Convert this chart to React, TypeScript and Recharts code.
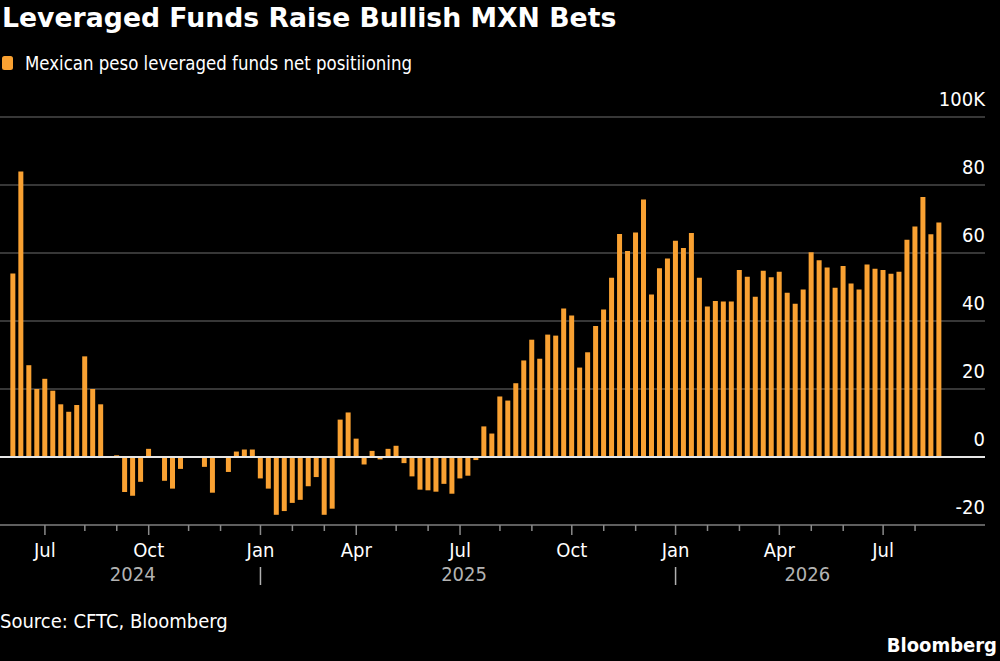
import React from 'react';
import {
    BarChart,
    Bar,
    XAxis,
    YAxis,
    CartesianGrid,
    ReferenceLine,
    ReferenceArea,
} from 'recharts';

// weekly CFTC readings (Tuesdays), first one on 2024-06-04, thousands of contracts
const START_DATE = Date.UTC(2024, 5, 4);
const netPositioning = [
    54, 84, 27, 20, 23, 19.5, 15.5, 13.3, 15.3, 29.6, 20, 15.5, -0.2, 0.5, -10.3, -11.4,
    -7.3, 2.4, 0.1, -7, -9.3, -3.5, 0.2, 0.3, -2.9, -10.5, 0.1, -4.4, 1.6, 2.2, 2.2, -6.3,
    -9.3, -17, -15.9, -13.5, -12.6, -8.6, -5.9, -17, -15.2, 11, 13.1, 5.4, -2.2, 1.8, -0.7, 2.4,
    3.3, -1.8, -5.7, -9.6, -9.8, -10.2, -7.9, -10.8, -6.3, -5.5, -0.9, 9, 6.9, 17.8, 16.6, 21.7,
    28.4, 34.5, 28.9, 36, 35.7, 43.7, 41.6, 26.3, 30.8, 38.5, 43.4, 52.7, 65.6, 60.6, 66, 75.7,
    47.8, 55.5, 58.4, 63.6, 61.5, 65.9, 52.7, 44.3, 45.9, 45.7, 45.7, 55, 53, 47.1, 54.8, 52.9,
    54.5, 48.3, 45.1, 49.3, 60.2, 57.9, 55.7, 49.8, 56.2, 51, 49.3, 56.6, 55.4, 55, 53.9, 54.5,
    63.9, 67.8, 76.5, 65.5, 69,
];
const yTicks = [-20, 0, 20, 40, 60, 80, 100];
const monthNames = ['Jan', 'Feb', 'Mar', 'Apr', 'May', 'Jun', 'Jul', 'Aug', 'Sep', 'Oct', 'Nov', 'Dec'];
const yearLabels = ['2024', '2025', '2026'];

const ORANGE = '#f9a132';
const GRID = '#4a4a4a';
const FONT = '"DejaVu Sans Condensed", sans-serif';

const WEEK = 7 * 24 * 3600 * 1000;
const isoOf = (t: number) => new Date(t).toISOString().slice(0, 10);

const data = netPositioning.map((v, i) => ({
    date: isoOf(START_DATE + i * WEEK),
    value: v,
}));

// first reading of every month gets a tick
const monthTicks = data
    .filter((d, i) => i > 0 && d.date.slice(5, 7) !== data[i - 1].date.slice(5, 7))
    .map(d => d.date);

const yearRanges = yearLabels.map(y => {
    const rows = data.filter(d => d.date.startsWith(y));
    return { year: y, from: rows[0].date, to: rows[rows.length - 1].date };
});

const MonthTick = (props: any) => {
    const { x, y, payload } = props;
    const month = Number(String(payload.value).slice(5, 7)) - 1;
    const major = month % 3 === 0;
    return (
        <g>
            <line x1={x} x2={x} y1={y} y2={y + (major ? 10 : 6)} stroke="#8a8a8a" strokeWidth={1.5} />
            {major && (
                <text x={x} y={y + 32} textAnchor="middle" fill="#fff" fontSize={20} fontFamily={FONT}>
                    {monthNames[month]}
                </text>
            )}
            {month === 0 && (
                <line x1={x} x2={x} y1={y + 42} y2={y + 60} stroke="#b0b0b0" strokeWidth={1.5} />
            )}
        </g>
    );
};

const ValueTick = (props: any) => {
    const { x, y, payload } = props;
    return (
        <text x={x} y={y - 11} textAnchor="end" fill="#fff" fontSize={20} fontFamily={FONT}>
            {payload.value === 100 ? '100K' : payload.value}
        </text>
    );
};

const YearLabel = (props: any) => {
    const { viewBox, text } = props;
    if (!viewBox) return null;
    return (
        <text
            x={viewBox.x + viewBox.width / 2}
            y={viewBox.y + viewBox.height + 56}
            textAnchor="middle"
            fill="#b3b3b3"
            fontSize={20}
            fontFamily={FONT}
        >
            {text}
        </text>
    );
};

export default function App() {
    return (
        <div style={{ position: 'absolute', left: 0, top: 0, width: 1000, height: 661, background: '#000', overflow: 'hidden' }}>
            <svg width={1000} height={100} style={{ position: 'absolute', left: 0, top: 0 }}>
                <text x={2} y={27} fill="#fff" fontSize={26.7} fontWeight="bold" fontFamily='"DejaVu Sans", sans-serif'>
                    Leveraged Funds Raise Bullish MXN Bets
                </text>
                <rect x={2} y={56} width={11} height={14} rx={2.5} fill={ORANGE} />
                <text x={25} y={70} fill="#fff" fontSize={20} fontFamily={FONT} textLength={387} lengthAdjust="spacingAndGlyphs">
                    Mexican peso leveraged funds net positiioning
                </text>
            </svg>
            <div style={{ position: 'absolute', left: 0, top: 0 }}>
                <BarChart
                    width={1000}
                    height={661}
                    data={data}
                    margin={{ top: 117, right: 0, bottom: 0, left: 0 }}
                    barCategoryGap="17%"
                >
                    <CartesianGrid vertical={false} stroke={GRID} strokeWidth={1.5} />
                    <XAxis
                        dataKey="date"
                        height={136}
                        ticks={monthTicks}
                        interval={0}
                        tickLine={false}
                        tickSize={0}
                        tickMargin={0}
                        axisLine={{ stroke: '#6e6e6e', strokeWidth: 1.5 }}
                        padding={{ left: 9, right: 42 }}
                        tick={<MonthTick />}
                    />
                    <YAxis
                        orientation="right"
                        width={15}
                        domain={[-20, 100]}
                        ticks={yTicks}
                        interval={0}
                        axisLine={false}
                        tickLine={false}
                        tickSize={0}
                        tickMargin={0}
                        tick={<ValueTick />}
                    />
                    <Bar dataKey="value" fill={ORANGE} isAnimationActive={false} />
                    <ReferenceLine y={0} stroke="#e6e6e6" strokeWidth={2} />
                    {yearRanges.map(r => (
                        <ReferenceArea
                            key={r.year}
                            x1={r.from}
                            x2={r.to}
                            fill="none"
                            fillOpacity={0}
                            stroke="none"
                            label={<YearLabel text={r.year} />}
                        />
                    ))}
                </BarChart>
            </div>
            <svg width={1000} height={70} style={{ position: 'absolute', left: 0, top: 591 }}>
                <text x={0} y={37} fill="#fff" fontSize={20} fontFamily={FONT}>
                    Source: CFTC, Bloomberg
                </text>
                <text x={997} y={61} textAnchor="end" fill="#fff" fontSize={20} fontWeight="bold" fontFamily={FONT}>
                    Bloomberg
                </text>
            </svg>
        </div>
    );
}
